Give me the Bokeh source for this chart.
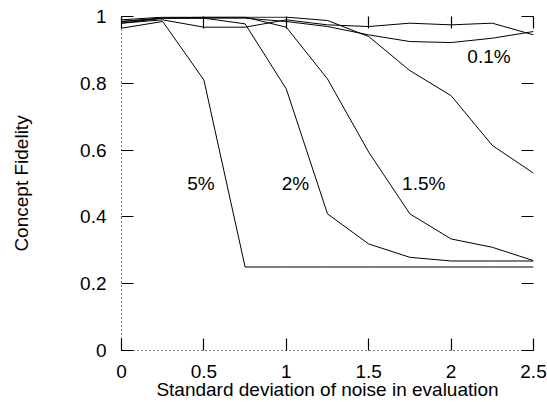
from bokeh.plotting import figure
from bokeh.models import LinearAxis, FixedTicker, Label, CustomJSTickFormatter
from bokeh.embed import file_html
from bokeh.resources import INLINE

xs = [0, 0.25, 0.5, 0.75, 1.0, 1.25, 1.5, 1.75, 2.0, 2.25, 2.5]
c5 = [0.965, 0.985, 0.81, 0.25, 0.25, 0.25, 0.25, 0.25, 0.25, 0.25, 0.25]
c2 = [0.985, 0.995, 0.995, 0.978, 0.783, 0.409, 0.319, 0.279, 0.268, 0.268, 0.268]
c15 = [0.985, 0.995, 0.998, 0.998, 0.968, 0.813, 0.594, 0.409, 0.334, 0.309, 0.269]
c1 = [0.99, 0.998, 0.998, 0.998, 0.998, 0.988, 0.94, 0.838, 0.763, 0.614, 0.531]
c01 = [0.98, 0.995, 0.995, 0.995, 0.985, 0.97, 0.945, 0.925, 0.922, 0.935, 0.955]
c0 = [0.98, 0.99, 0.968, 0.968, 0.99, 0.975, 0.97, 0.98, 0.975, 0.98, 0.945]
series = [c5, c2, c15, c1, c01, c0]

labels = ["5%", "2%", "1.5%", "0.1%"]
label_x = [0.482, 1.056, 1.834, 2.230]
label_y = [0.50, 0.50, 0.50, 0.881]

x_ticks = [0, 0.5, 1, 1.5, 2, 2.5]
x_tick_labels = ["0", "0.5", "1", "1.5", "2", "2.5"]
y_ticks = [0, 0.2, 0.4, 0.6, 0.8, 1.0]
y_tick_labels = ["0", "0.2", "0.4", "0.6", "0.8", "1"]

FONT = "Liberation Sans"
FS = "19px"

p = figure(width=547, height=402, x_range=(0, 2.5), y_range=(0, 1),
           output_backend="svg", toolbar_location=None,
           x_axis_label="Standard deviation of noise in evaluation",
           y_axis_label="Concept Fidelity",
           min_border_left=121, min_border_right=14,
           min_border_top=16, min_border_bottom=51)
p.outline_line_color = None
p.grid.visible = False
p.background_fill_color = "white"

for s in series:
    p.line(xs, s, line_color="black", line_width=1)

for t, lx, ly in zip(labels, label_x, label_y):
    p.add_layout(Label(x=lx, y=ly, text=t, text_align="center", text_baseline="middle",
                       text_font=FONT, text_font_size=FS, text_color="black"))

def style(ax, ticks, tlabels, show_labels, dotted):
    ax.ticker = FixedTicker(ticks=ticks)
    ax.major_tick_in = 12
    ax.major_tick_out = 0
    ax.minor_tick_in = 0
    ax.minor_tick_out = 0
    ax.major_tick_line_color = "black"
    ax.major_tick_line_width = 1.2
    if dotted:
        ax.axis_line_dash = "1 3"
        ax.axis_line_color = "black"
    else:
        ax.axis_line_color = None
    if show_labels:
        ax.major_label_overrides = {t: l for t, l in zip(ticks, tlabels)}
        ax.major_label_text_font = FONT
        ax.major_label_text_font_size = FS
        ax.major_label_text_color = "black"
    else:
        ax.formatter = CustomJSTickFormatter(code="return ''")
        ax.major_label_standoff = 0

xa = p.xaxis[0]
ya = p.yaxis[0]
style(xa, x_ticks, x_tick_labels, True, True)
style(ya, y_ticks, y_tick_labels, True, True)
xa.major_label_standoff = 14
ya.major_label_standoff = 15
xa.axis_label_standoff = -2
ya.axis_label_standoff = 45
for ax in (xa, ya):
    ax.axis_label_text_font = FONT
    ax.axis_label_text_font_size = FS
    ax.axis_label_text_font_style = "normal"
    ax.axis_label_text_color = "black"

top = LinearAxis()
style(top, x_ticks, x_tick_labels, False, False)
p.add_layout(top, "above")
right = LinearAxis()
style(right, y_ticks, y_tick_labels, False, False)
p.add_layout(right, "right")

open("out.html", "w").write(file_html(p, INLINE))
